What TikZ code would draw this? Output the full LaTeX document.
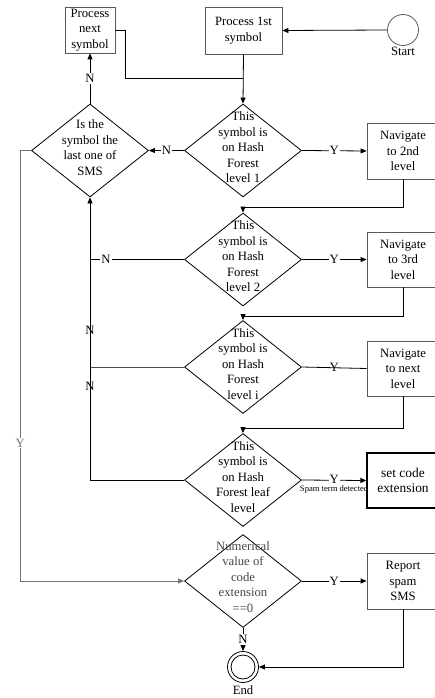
\documentclass[tikz,border=0pt]{standalone}
\usepackage{fontspec}
\setmainfont{Liberation Serif}
\usetikzlibrary{shapes.geometric,arrows.meta}
\begin{document}
\begin{tikzpicture}[x=1pt,y=-1pt,line width=0.8pt,
  font=\fontsize{12.7}{15.5}\selectfont,
  box/.style={draw=black!65, rectangle, inner sep=0pt, align=center, minimum width=72pt, minimum height=55pt},
  dec/.style={draw, diamond, inner sep=0pt, minimum width=117pt, minimum height=93pt},
  txt/.style={align=center, inner sep=0pt},
  arr/.style={-{Triangle[length=6pt,width=5pt]}},
  lab/.style={fill=white, inner sep=1pt},
  onl/.style={inner sep=0pt}]
\useasboundingbox (0,0) rectangle (434,698);

% process boxes and terminals
\node[box, minimum width=50pt, minimum height=46pt] (pnext) at (90,30) {Process\\next\\symbol};
\node[box, minimum width=77pt, minimum height=47pt] (pfirst) at (243.5,30.5) {Process 1st\\symbol};
\node[draw=black!65, circle, minimum size=31pt, inner sep=0pt] (start) at (403,30) {};
\node[txt, anchor=north] (startlab) at (403,47) {Start};

% decisions
\node[dec] (dsms) at (90,150.5) {};
\node[dec] (done) at (243,150.5) {};
\node[dec] (dtwo) at (243,259.5) {};
\node[dec] (dlvi) at (243,367) {};
\node[dec] (dleaf) at (243,480) {};
\node[dec] (dnum) at (243,581) {};

\node[txt] at ([yshift=3pt]dsms.center) {Is the\\symbol the\\last one of\\SMS};
\node[txt] at ([yshift=3pt]done.center) {This\\symbol is\\on Hash\\Forest\\level 1};
\node[txt] at ([yshift=3pt]dtwo.center) {This\\symbol is\\on Hash\\Forest\\level 2};
\node[txt] at ([yshift=3pt]dlvi.center) {This\\symbol is\\on Hash\\Forest\\level i};
\node[txt] at ([yshift=3pt]dleaf.center) {This\\symbol is\\on Hash\\Forest leaf\\level};
\node[txt, text=black!72] at ([yshift=4pt]dnum.center) {Numerical\\value of\\code\\extension\\==0};

% navigation and result boxes
\node[box, minimum height=56pt] (navtwo) at (403,151) {Navigate\\to 2nd\\level};
\node[box] (navthree) at (403,259.5) {Navigate\\to 3rd\\level};
\node[box] (navnext) at (403,368.5) {Navigate\\to next\\level};
\node[box, draw=black, line width=1.3pt, font=\fontsize{13.4}{15.5}\selectfont] (setcode) at (403,480.5) {set code\\extension};
\node[box, minimum height=56pt] (report) at (403,581) {Report\\spam\\SMS};

% end terminal
\node[draw, circle, minimum size=31pt, inner sep=0pt] (end) at (243,667) {};
\node[draw, circle, minimum size=24pt, inner sep=0pt] (endin) at (243,667) {};
\node[txt, anchor=north] (endlab) at (243,685) {End};

% junction points
\coordinate (jtop) at (243,78);
\coordinate (jtwo) at (243,207);
\coordinate (jthree) at (243,316);
\coordinate (jleaf) at (243,428);
\coordinate (vtwo) at (90,259.5);
\coordinate (vlvi) at (90,367);
\coordinate (vleaf) at (90,480);

% connectors
\draw[arr] (start.west) -- (pfirst.east);
\draw (pnext.east) -- ++(10,0) |- (jtop);
\draw[arr] (pfirst.south) -- (done.north);
\draw[arr] (done.west) -- node[lab]{N} (dsms.east);
\draw[arr] (dsms.north) -- node[lab]{N} (pnext.south);
\draw[arr] (done.east) -- node[lab]{Y} (navtwo.west);
\draw (navtwo.south) |- (jtwo);
\draw[arr] (jtwo) -- (dtwo.north);
\draw[arr] (dtwo.east) -- node[lab]{Y} (navthree.west);
\draw (navthree.south) |- (jthree);
\draw[arr] (jthree) -- (dlvi.north);
\draw (dlvi.east) -- node[onl]{Y} (navnext.west);
\draw (navnext.south) |- (jleaf);
\draw[arr] (jleaf) -- (dleaf.north);
\draw[arr] (dleaf.east) -- node[lab, yshift=1pt]{Y}
  node[below=5pt, inner sep=0pt, font=\fontsize{8.6}{10}\selectfont]{Spam term detected} (setcode.west);
\draw (dtwo.west) -- node[lab, pos=0.83]{N} (vtwo);
\draw[black!70] (dlvi.west) -- (vlvi);
\draw (dleaf.west) -- (vleaf);
\draw[arr] (vleaf) -- node[onl, pos=0.33]{N} node[onl, pos=0.53]{N} (dsms.south);
\draw[black!55, arr] (dsms.west) -- ++(-11,0) |- node[lab, pos=0.34]{Y} (dnum.west);
\draw[arr] (dnum.east) -- node[lab]{Y} (report.west);
\draw[arr] (dnum.south) -- node[lab]{N} (end.north);
\draw[arr] (report.south) |- (end.east);
\end{tikzpicture}
\end{document}
